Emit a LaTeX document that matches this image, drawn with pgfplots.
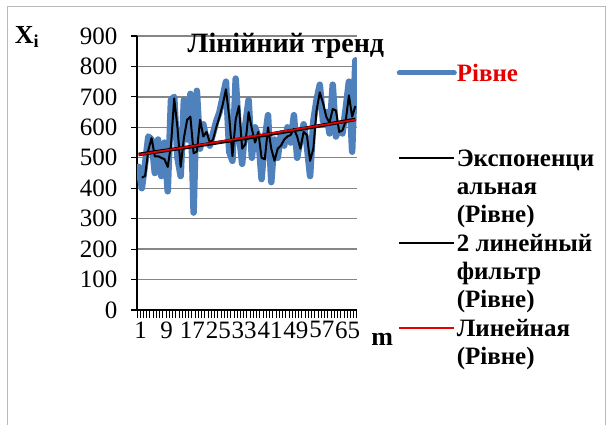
\documentclass[border=0pt]{standalone}
\usepackage{pgfplots}
\pgfplotsset{compat=1.18}
\usepackage{fontspec}
\setmainfont{Liberation Serif}[BoldFont={Liberation Serif Bold}]
\definecolor{sblue}{RGB}{79,129,189}
\definecolor{lred}{RGB}{230,0,0}
\definecolor{gridg}{RGB}{134,134,134}
\pgfplotstableread{
x y
1 470
2 400
3 480
4 570
5 560
6 450
7 560
8 440
9 550
10 390
11 690
12 700
13 500
14 440
15 690
16 560
17 710
18 320
19 720
20 530
21 610
22 560
23 540
24 580
25 620
26 650
27 700
28 750
29 520
30 490
31 760
32 580
33 480
34 610
35 690
36 500
37 600
38 570
39 430
40 560
41 640
42 420
43 560
44 500
45 580
46 540
47 600
48 550
49 640
50 500
51 560
52 610
53 540
54 440
55 620
56 690
57 740
58 620
59 650
60 580
61 740
62 570
63 600
64 580
65 660
66 750
67 520
68 820
}\rivne
\pgfplotstableread{
x y
2 435
3 440
4 525
5 565
6 505
7 505
8 500
9 495
10 470
11 540
12 695
13 600
14 470
15 565
16 625
17 635
18 515
19 520
20 625
21 570
22 585
23 550
24 560
25 600
26 635
27 675
28 725
29 635
30 505
31 625
32 670
33 530
34 545
35 650
36 595
37 550
38 585
39 500
40 495
41 600
42 530
43 490
44 530
45 540
46 560
47 570
48 575
49 595
50 570
51 530
52 585
53 575
54 490
55 530
56 655
57 715
58 680
59 635
60 615
61 660
62 655
63 585
64 590
65 620
66 705
67 635
68 670
}\filt
\pgfplotstableread{
x y
1 511
17 536
34 564
51 594
68 626
}\expo
\pgfplotstableread{
x y
1 510
68 625
}\lin
\begin{document}
\begin{tikzpicture}
\useasboundingbox (0,0) rectangle (612bp,425bp);
\fill[white] (0,0) rectangle (612bp,425bp);
\draw[gray!55, line width=1bp] (7bp,-5bp) rectangle (605bp,418bp);
\begin{axis}[
  at={(137bp,115bp)}, anchor=south west, scale only axis,
  width=220bp, height=274bp,
  xmin=0.5, xmax=68.5, ymin=0, ymax=900,
  axis x line*=bottom, axis y line*=left,
  axis line style={black, line width=1.6bp},
  ytick={0,100,...,900},
  ymajorgrids, major grid style={gridg, line width=1.3bp},
  xtick={1,9,...,65},
  minor xtick={0.5,1.5,...,68.5},
  tick align=outside,
  major tick length=6bp, minor tick length=8bp,
  major x tick style={draw=none},
  minor x tick style={black, line width=1bp},
  major y tick style={black, line width=1.2bp},
  /pgf/number format/assume math mode=true,
  yticklabel style={font=\fontsize{25bp}{28bp}\selectfont, xshift=-10bp},
  xticklabel style={font=\fontsize{25bp}{28bp}\selectfont, yshift=-2bp, xshift=2bp},
  title={Лінійний тренд},
  title style={at={(axis description cs:0.677,0.942)}, anchor=center, font=\bfseries\fontsize{28bp}{30bp}\selectfont},
  ylabel={X\textsubscript{i}},
  ylabel style={at={(axis description cs:-0.5,0.996)}, anchor=center, rotate=-90, font=\bfseries\fontsize{26bp}{28bp}\selectfont},
  xlabel={m},
  xlabel style={at={(axis description cs:1.114,-0.106)}, anchor=center, font=\bfseries\fontsize{26bp}{28bp}\selectfont},
  legend style={at={(axis description cs:1.18,0.901)}, anchor=north west, draw=none, fill=none, inner sep=0pt,
    font=\bfseries\fontsize{25bp}{28bp}\selectfont, row sep=0pt,
    nodes={inner sep=0pt, text height=18bp, text depth=10.3bp},
    /tikz/every even column/.append style={column sep=3bp}},
  legend image code/.code={\draw[#1] (0bp,4.5bp) -- (55bp,4.5bp);},
  legend cell align=left,
]
\addplot[sblue, line width=6.5bp, line join=round, line cap=round, forget plot] table {\rivne};
\addplot[black, line width=3.6bp, forget plot] table {\expo};
\addplot[black, line width=2bp, line join=round, forget plot] table {\filt};
\addplot[lred, line width=1.8bp, forget plot] table {\lin};
\addlegendimage{sblue, line width=5bp, line cap=round}
\addlegendentry{\textcolor{lred}{Рівне}}
\addlegendimage{empty legend}
\addlegendentry{\strut}
\addlegendimage{empty legend}
\addlegendentry{\strut}
\addlegendimage{black, line width=1.8bp}
\addlegendentry{Экспоненци}
\addlegendimage{empty legend}
\addlegendentry{альная}
\addlegendimage{empty legend}
\addlegendentry{(Рівне)}
\addlegendimage{black, line width=1.8bp}
\addlegendentry{2 линейный}
\addlegendimage{empty legend}
\addlegendentry{фильтр}
\addlegendimage{empty legend}
\addlegendentry{(Рівне)}
\addlegendimage{lred, line width=1.8bp}
\addlegendentry{Линейная}
\addlegendimage{empty legend}
\addlegendentry{(Рівне)}
\end{axis}
\end{tikzpicture}
\end{document}
